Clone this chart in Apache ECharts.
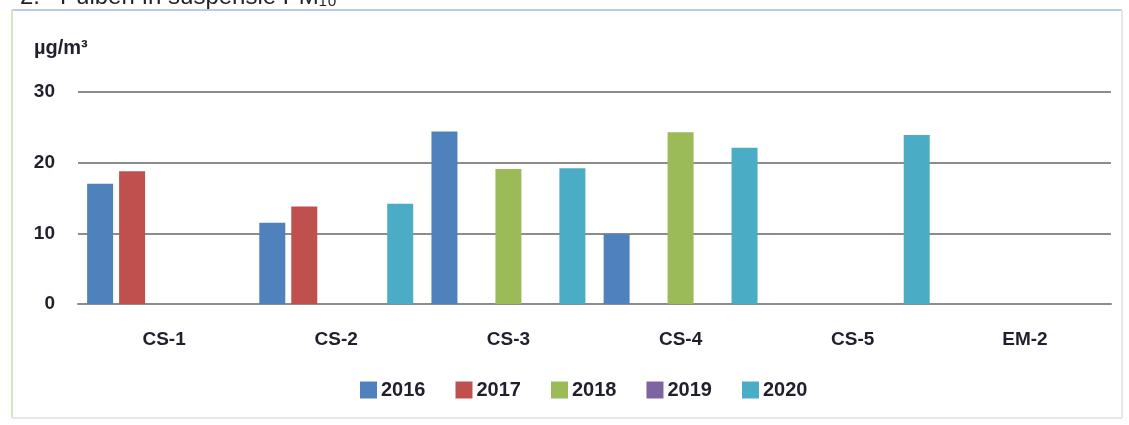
<!DOCTYPE html>
<html>
<head>
<meta charset="utf-8">
<script src="https://cdn.jsdelivr.net/npm/echarts@6/dist/echarts.min.js"></script>
<style>
  html, body { margin: 0; padding: 0; background: #ffffff; }
  #main { width: 1129px; height: 425px; }
</style>
</head>
<body>
<div id="main"></div>
<script>
// statii de monitorizare
var categories = ['CS-1', 'CS-2', 'CS-3', 'CS-4', 'CS-5', 'EM-2'];
var years = ['2016', '2017', '2018', '2019', '2020'];
var yTicks = [0, 10, 20, 30];

// valori PM10 (µg/m3), '-' = fara date
var v2016 = [17.0, 11.5, 24.4, 9.9, '-', '-'];
var v2017 = [18.8, 13.8, '-', '-', '-', '-'];
var v2018 = ['-', '-', 19.1, 24.3, '-', '-'];
var v2019 = ['-', '-', '-', '-', '-', '-'];
var v2020 = ['-', 14.2, 19.2, 22.1, 23.9, '-'];

var colors = ['#4f81bd', '#c0504d', '#9bbb59', '#8064a2', '#4bacc6'];
var allValues = [v2016, v2017, v2018, v2019, v2020];

var myChart = echarts.init(document.getElementById('main'));
var font = '"Liberation Sans", Arial, sans-serif';

var series = years.map(function (y, i) {
    return {
        name: y,
        type: 'bar',
        data: allValues[i],
        barWidth: 26,
        barGap: '23%',
        itemStyle: { color: colors[i] }
    };
});

option = {
    animation: false,
    backgroundColor: '#ffffff',
    color: colors,
    grid: { left: 78, right: 18, top: 92, bottom: 121 },
    legend: {
        data: years,
        bottom: 20,
        left: 355,
        itemWidth: 17,
        itemHeight: 17,
        itemGap: 30,
        icon: 'rect',
        textStyle: { fontFamily: font, fontWeight: 'bold', fontSize: 20, color: '#1f1f2e', padding: [0, 0, 0, -1] }
    },
    xAxis: {
        type: 'category',
        data: categories,
        axisTick: { show: false },
        axisLine: { lineStyle: { color: '#8c8c8c', width: 2 } },
        axisLabel: { margin: 26, fontFamily: font, fontWeight: 'bold', fontSize: 19, color: '#1f1f2e' }
    },
    yAxis: {
        type: 'value',
        min: yTicks[0],
        max: yTicks[yTicks.length - 1],
        interval: 10,
        axisLine: { show: false },
        axisTick: { show: false },
        splitLine: { lineStyle: { color: '#8c8c8c', width: 2 } },
        axisLabel: { margin: 23, fontFamily: font, fontWeight: 'bold', fontSize: 19, color: '#1f1f2e' }
    },
    graphic: [
        { type: 'text', left: 20, top: -15, style: { text: '2.   Pulberi în suspensie PM₁₀', font: '24px ' + font, fill: '#222' } },
        { type: 'line', shape: { x1: 12, y1: 10, x2: 1122, y2: 10 }, style: { stroke: '#b9cbe8', lineWidth: 2 } },
        { type: 'line', shape: { x1: 12, y1: 10, x2: 12, y2: 418 }, style: { stroke: '#d5e6bb', lineWidth: 2 } },
        { type: 'line', shape: { x1: 1122, y1: 10, x2: 1122, y2: 418 }, style: { stroke: '#e6e6e6', lineWidth: 2 } },
        { type: 'line', shape: { x1: 12, y1: 418, x2: 1122, y2: 418 }, style: { stroke: '#e6e6e6', lineWidth: 2 } },
        { type: 'text', left: 34, top: 38, style: { text: 'µg/m³', font: 'bold 20px ' + font, fill: '#1f1f2e' } }
    ],
    series: series
};

myChart.setOption(option);
</script>
</body>
</html>
